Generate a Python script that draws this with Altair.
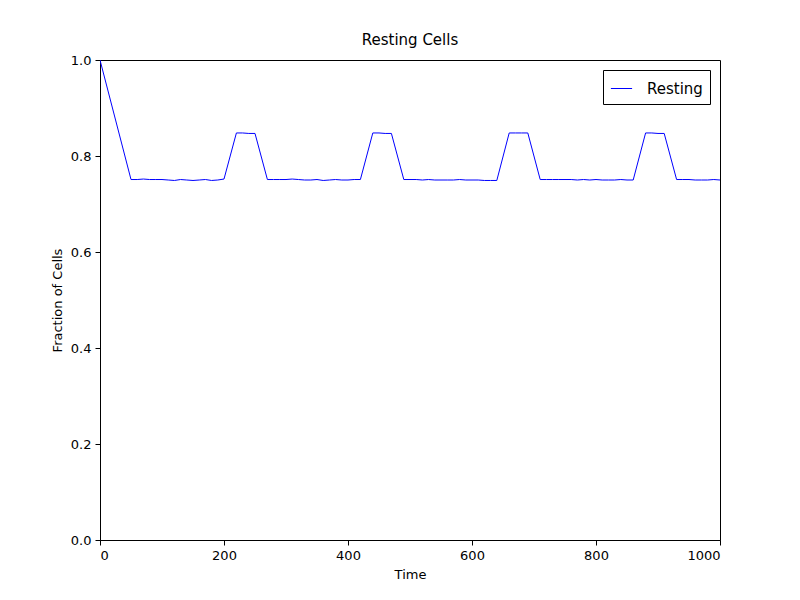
import altair as alt
import pandas as pd

times = [0, 50, 60, 70, 80, 90, 100, 110, 120, 130, 140, 150, 160, 170, 180, 190, 200,
         220, 230, 240, 250, 270, 280, 290, 300, 310, 320, 330, 340, 350, 360, 370, 380, 390, 400, 410, 420,
         440, 450, 460, 470, 490, 500, 510, 520, 530, 540, 550, 560, 570, 580, 590, 600, 610, 620, 630, 640,
         660, 670, 680, 690, 710, 720, 730, 740, 750, 760, 770, 780, 790, 800, 810, 820, 830, 840, 850, 860,
         880, 890, 900, 910, 930, 940, 950, 960, 970, 980, 990, 1000]
resting = [1.0, 0.751, 0.751, 0.752, 0.751, 0.751, 0.751, 0.750, 0.749, 0.751, 0.750, 0.749, 0.750, 0.751, 0.749, 0.750, 0.752,
           0.848, 0.848, 0.847, 0.847, 0.751, 0.751, 0.751, 0.751, 0.752, 0.751, 0.750, 0.750, 0.751, 0.749, 0.750, 0.751, 0.750, 0.750, 0.751, 0.751,
           0.848, 0.848, 0.847, 0.847, 0.751, 0.751, 0.751, 0.750, 0.751, 0.750, 0.750, 0.750, 0.750, 0.751, 0.750, 0.750, 0.750, 0.749, 0.749, 0.749,
           0.848, 0.848, 0.848, 0.848, 0.751, 0.751, 0.751, 0.751, 0.751, 0.751, 0.750, 0.751, 0.750, 0.751, 0.750, 0.750, 0.750, 0.751, 0.750, 0.750,
           0.848, 0.848, 0.847, 0.847, 0.751, 0.751, 0.751, 0.750, 0.750, 0.750, 0.751, 0.750]

df = pd.DataFrame({"Time": times, "Fraction": resting, "series": "Resting"})

font = "DejaVu Sans"
x = alt.X("Time:Q", scale=alt.Scale(domain=[0, 1000], nice=False),
          axis=alt.Axis(title="Time", values=[0, 200, 400, 600, 800, 1000], grid=False, format="d"))
y = alt.Y("Fraction:Q", scale=alt.Scale(domain=[0, 1], nice=False),
          axis=alt.Axis(title="Fraction of Cells", values=[0, 0.2, 0.4, 0.6, 0.8, 1.0], format=".1f", grid=False))

line = alt.Chart(df).mark_line(strokeWidth=1, clip=True).encode(
    x=x, y=y,
    color=alt.Color("series:N", scale=alt.Scale(domain=["Resting"], range=["#0000ff"]),
                    legend=alt.Legend(title=None, orient="top-right", strokeColor="black", fillColor="white",
                                      padding=7, labelFontSize=15, symbolType="stroke", symbolSize=450,
                                      symbolStrokeWidth=1, labelFont=font, offset=10, cornerRadius=0,
                                      labelOffset=14))
)

chart = line.properties(
    width=620, height=480,
    title=alt.Title("Resting Cells", fontSize=15, font=font, fontWeight="normal", offset=6),
    autosize=alt.AutoSizeParams(type="none"),
    padding={"left": 92, "top": 52, "right": 72, "bottom": 52},
).configure(background="white").configure_view(stroke="black", strokeWidth=1).configure_axis(
    labelFont=font, titleFont=font, labelFontSize=13, titleFontSize=13, titleFontWeight="normal",
    labelColor="black", titleColor="black", domainColor="black", tickColor="black", tickSize=5,
    labelPadding=4, titlePadding=6
)

chart.save("out.html", embed_options={"renderer": "svg", "actions": False})
